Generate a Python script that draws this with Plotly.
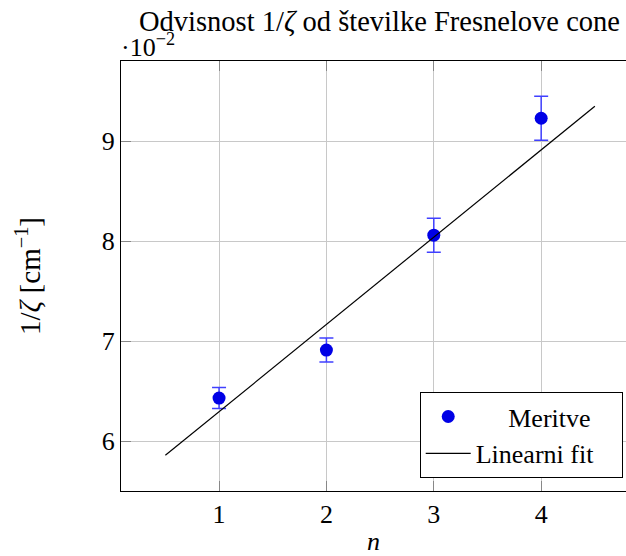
import plotly.graph_objects as go

# Data (y values in units of 1e-2 cm^-1)
n_vals = [1, 2, 3, 4]
inv_zeta = [6.43, 6.91, 8.06, 9.23]
inv_zeta_err = [0.105, 0.12, 0.17, 0.22]
fit_x = [0.5, 4.5]
fit_y = [5.857, 9.35]
x_ticks = [1, 2, 3, 4]
y_ticks = [6, 7, 8, 9]

FONT = "Liberation Serif"
FS = 26
NB = "\u00a0"

fig = go.Figure()
fig.add_trace(go.Scatter(
    x=n_vals, y=inv_zeta, mode="markers", name=NB * 5 + "Meritve" + NB * 4,
    marker=dict(color="#0000e6", size=13),
    error_y=dict(type="data", array=inv_zeta_err, visible=True,
                 color="#4040ff", thickness=1.5, width=7),
))
fig.add_trace(go.Scatter(
    x=fit_x, y=fit_y, mode="lines", name="Linearni fit",
    line=dict(color="black", width=1.2),
))

fig.update_layout(
    width=626, height=556,
    margin=dict(l=121, r=0, t=61, b=65),
    plot_bgcolor="white", paper_bgcolor="white",
    font=dict(family=FONT, size=FS, color="black"),
    showlegend=True,
    legend=dict(x=0.9935, y=0.03, xanchor="right", yanchor="bottom",
                bordercolor="black", borderwidth=1, bgcolor="white",
                itemwidth=45,
                font=dict(family=FONT, size=FS), tracegroupgap=0),
    xaxis=dict(range=[0.087, 4.79], tickvals=x_ticks,
               showgrid=True, gridcolor="#c8c8c8", gridwidth=1,
               showline=True, linecolor="black", linewidth=1,
               mirror="allticks", ticks="inside", ticklen=10, tickcolor="#888",
               zeroline=False, tickfont=dict(family=FONT, size=FS),
               title=dict(text="<i>n</i>", font=dict(family=FONT, size=FS), standoff=8)),
    yaxis=dict(range=[5.5, 9.803], tickvals=y_ticks,
               showgrid=True, gridcolor="#c8c8c8", gridwidth=1,
               showline=True, linecolor="black", linewidth=1,
               mirror=False, ticks="inside", ticklen=10, tickcolor="#888",
               zeroline=False, tickfont=dict(family=FONT, size=FS),
               title=dict(text="1/<i>ζ</i> [cm<sup>−1</sup>]", font=dict(family=FONT, size=29), standoff=52)),
    annotations=[
        dict(text="Odvisnost 1/<i>ζ</i> od številke Fresnelove cone",
             xref="paper", yref="paper", x=(379 - 121) / 505, y=1 + (61 - 21) / 430,
             xanchor="center", yanchor="middle", showarrow=False,
             font=dict(family=FONT, size=28.5)),
        dict(text="·10<sup>−2</sup>",
             xref="paper", yref="paper", x=0, y=1 + (61 - 45) / 430,
             xanchor="left", yanchor="middle", showarrow=False, xshift=-2,
             font=dict(family=FONT, size=FS)),
    ],
)

fig.write_html("out.html")
